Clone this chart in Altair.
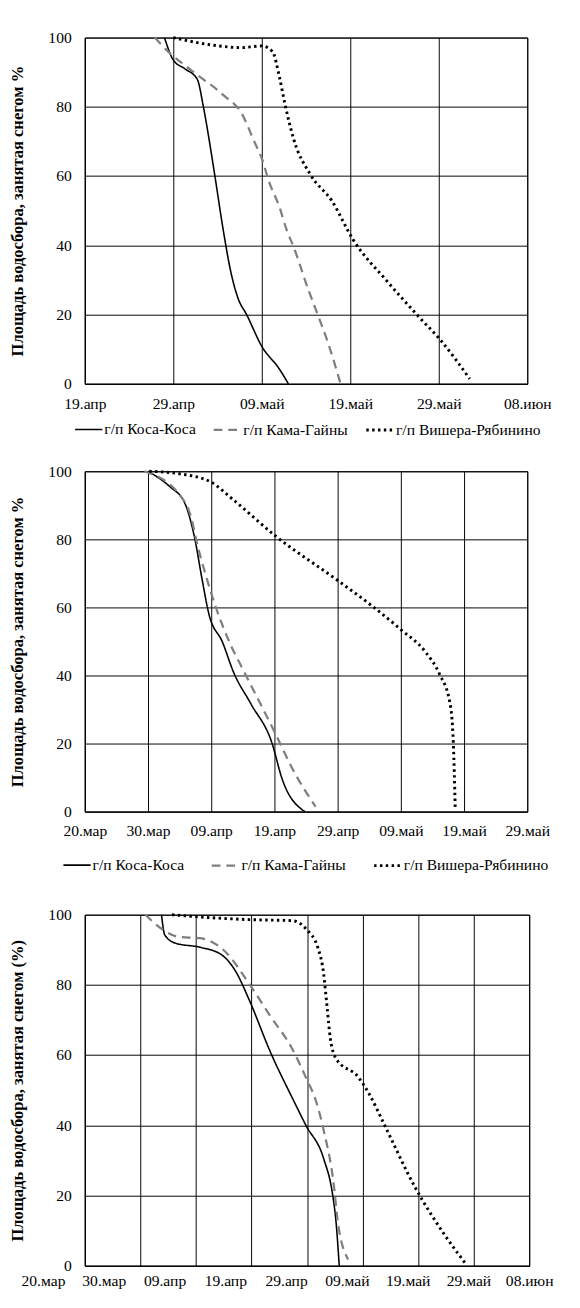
import altair as alt
import pandas as pd

stations = ["г/п Коса-Коса", "г/п Кама-Гайны", "г/п Вишера-Рябинино"]
colors = ["#000000", "#7f7f7f", "#000000"]
dashes = [[1, 0], [9, 6], [2.5, 3.5]]
widths = [1.6, 3.0, 2.6]

# Panel 1 (days since 19.апр)
labels1 = ["19.апр", "29.апр", "09.май", "19.май", "29.май", "08.июн"]
kosa1_day = [9.0, 10.0, 11.3, 12.7, 13.4, 14.1, 14.7, 15.7, 16.5, 17.3, 18.3, 20.0, 22.0, 23.0]
kosa1_val = [100, 93.5, 91, 88, 80, 69.7, 60, 43.5, 32.3, 24.8, 19.9, 10.8, 4.2, 0]
kama1_day = [7.9, 9.4, 12.1, 15.7, 17.7, 19.2, 20.0, 20.8, 22.0, 22.8, 23.6, 25.2, 26.3, 27.5, 28.9]
kama1_val = [100, 96.0, 90.4, 83.3, 78.2, 69.7, 65.1, 58.5, 51.0, 44.5, 39.5, 27.6, 20.1, 11.7, 0]
vish1_day = [10.0, 14.5, 17.7, 20.0, 21.2, 22.0, 22.6, 23.6, 25.5, 27.9, 30.3, 34.2, 37.8, 40.2, 43.5]
vish1_val = [100, 97.8, 97.1, 97.6, 96, 88.5, 81, 70.7, 60.4, 52.9, 41.7, 29.5, 19.2, 12.6, 1.4]

# Panel 2 (days since 20.мар)
labels2 = ["20.мар", "30.мар", "09.апр", "19.апр", "29.апр", "09.май", "19.май", "29.май"]
kosa2_day = [9.95, 13.5, 15.8, 17.4, 18.5, 19.6, 21.8, 23.5, 26.3, 29.6, 31.2, 34.8]
kosa2_val = [100, 95.4, 90.7, 80.2, 68.8, 58.3, 49.7, 41.1, 31.6, 20.2, 9.7, 0]
kama2_day = [9.4, 15.2, 16.9, 17.7, 19.1, 20.7, 22.9, 25.2, 29.6, 33.4, 36.5]
kama2_val = [100, 92.6, 85.9, 79.2, 69.7, 60.2, 49.7, 41.1, 25.0, 10.7, 1.5]
vish2_day = [10.2, 15.2, 19.9, 23.5, 30.1, 40.1, 45.6, 50.0, 53.9, 56.1, 57.8, 58.3, 58.6]
vish2_val = [100, 99.2, 96.9, 91.6, 81.1, 67.8, 60.2, 53.5, 46.9, 40.5, 31.6, 20.2, 1.1]

# Panel 3 (days since 20.мар)
labels3 = ["20.мар", "30.мар", "09.апр", "19.апр", "29.апр", "09.май", "19.май", "29.май", "08.июн"]
kosa3_day = [13.8, 14.4, 16.3, 20.8, 24.6, 27.1, 29.6, 33.4, 37.6, 39.8, 43.0, 44.6, 45.2, 45.8]
kosa3_val = [100, 94.2, 91.9, 90.7, 88.6, 84, 75.7, 60.9, 47, 40, 30.5, 20.3, 12.9, 0]
kama3_day = [10.9, 13.8, 16.9, 20.8, 25.2, 29.6, 33.4, 37.3, 39.8, 41.6, 43.0, 44.9, 45.5, 47.4]
kama3_val = [100, 96, 93.7, 93.3, 89.6, 80.3, 71.1, 61.9, 53.6, 47, 38.6, 22, 13, 1.8]
vish3_day = [15.7, 19.5, 29.6, 37.3, 39.8, 42.0, 43.0, 43.6, 44.2, 45.2, 49.3, 51.2, 53.8, 59.5, 64.6, 68.4]
vish3_val = [100, 99.5, 98.6, 98.3, 96, 90.4, 83.1, 73.9, 64.7, 59.1, 53.6, 48.9, 40.6, 22.2, 9.2, 0.9]

ytitle12 = "Площадь водосбора, занятая снегом %"
ytitle3 = "Площадь водосбора, занятая снегом (%)"
yticks = [0, 20, 40, 60, 80, 100]

FONT = "Liberation Serif"
W12 = 455
W3 = 457


def panel_df(days_lists, val_lists):
    rows = []
    for st, ds, vs in zip(stations, days_lists, val_lists):
        for d, v in zip(ds, vs):
            rows.append({"station": st, "day": d, "value": v})
    return pd.DataFrame(rows)


def label_expr_of(labels):
    return "[" + ",".join(f"'{l}'" for l in labels) + "][round(datum.value/10)]"


def y_enc(ytitle):
    return alt.Y("value:Q", scale=alt.Scale(domain=[0, 100], nice=False),
                 axis=alt.Axis(values=yticks, title=ytitle))


def panel(df, labels, width, height, ytitle, label_pad, legend_opts=None, show_xlabels=True):
    n = len(labels) - 1
    if legend_opts:
        leg = alt.Legend(title=None, orient="none", direction="horizontal",
                         labelFont=FONT, labelFontSize=16, labelColor="#000",
                         symbolSize=784, labelOffset=1, gridAlign="none",
                         symbolType="stroke", **legend_opts)
    else:
        leg = None
    return alt.Chart(df).mark_line(interpolate="monotone").encode(
        x=alt.X("day:Q",
                scale=alt.Scale(domain=[0, n * 10], nice=False, zero=False),
                axis=alt.Axis(values=list(range(0, n * 10 + 1, 10)), labelExpr=label_expr_of(labels),
                              title=None, labelPadding=label_pad, labelOverlap=False,
                              labelFlush=False, labels=show_xlabels, orient="bottom")),
        y=y_enc(ytitle),
        color=alt.Color("station:N", scale=alt.Scale(domain=stations, range=colors), legend=leg),
        strokeDash=alt.StrokeDash("station:N", scale=alt.Scale(domain=stations, range=dashes), legend=leg),
        strokeWidth=alt.StrokeWidth("station:N", scale=alt.Scale(domain=stations, range=widths), legend=leg),
    ).properties(width=width, height=height)


p1 = panel(panel_df([kosa1_day, kama1_day, vish1_day], [kosa1_val, kama1_val, vish1_val]),
           labels1, W12, 356, ytitle12, 12,
           dict(legendX=-11, legendY=388, columnPadding=12))
p2 = panel(panel_df([kosa2_day, kama2_day, vish2_day], [kosa2_val, kama2_val, vish2_val]),
           labels2, W12, 350, ytitle12, 12,
           dict(legendX=-31, legendY=382, columnPadding=22, padding=8))

# Panel 3: the date labels in the source sit on a wider spacing than the grid lines
df3 = panel_df([kosa3_day, kama3_day, vish3_day], [kosa3_val, kama3_val, vish3_val])
p3_lines = panel(df3, labels3, W3, 361, ytitle3, 7, show_xlabels=False)
p3_labels = alt.Chart(df3).mark_point(opacity=0).encode(
    x=alt.X("day:Q",
            scale=alt.Scale(domain=[0, 80], nice=False, zero=False, range=[-43, W3]),
            axis=alt.Axis(values=list(range(0, 81, 10)), labelExpr=label_expr_of(labels3),
                          title=None, labelPadding=7, labelOverlap=False, labelFlush=False,
                          grid=False, domain=False, orient="bottom")),
    y=y_enc(ytitle3),
)
p3 = alt.layer(p3_lines, p3_labels).resolve_scale(x="independent")

chart = alt.vconcat(p1, p2, p3, spacing=24).resolve_scale(
    color="independent", strokeDash="independent", strokeWidth="independent"
).resolve_legend(
    color="independent", strokeDash="independent", strokeWidth="independent"
).properties(
    padding={"left": 0, "top": 3, "right": 0, "bottom": 0},
    background="white",
).configure_axis(
    grid=True, gridColor="#000", gridOpacity=1, gridWidth=1,
    domainColor="#000", domainWidth=1, ticks=False,
    labelFont=FONT, labelFontSize=16, labelColor="#000",
    titleFont=FONT, titleFontSize=17, titleFontWeight="bold", titleColor="#000",
).configure_axisY(
    labelPadding=14, titlePadding=22,
).configure_view(
    stroke="#000", strokeWidth=1
)

chart.save("out.html", embed_options={"renderer": "svg", "actions": False})
